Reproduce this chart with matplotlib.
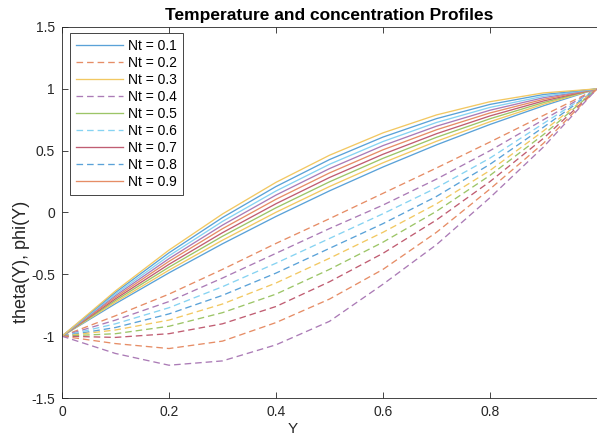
import numpy as np
import matplotlib
matplotlib.use("Agg")
import matplotlib.pyplot as plt

plt.rcParams['font.family'] = ['Liberation Sans', 'DejaVu Sans']
plt.rcParams['axes.unicode_minus'] = False

# sample positions along Y
Y = [0.0, 0.1, 0.2, 0.3, 0.4, 0.5, 0.6, 0.7, 0.8, 0.9, 1.0]
Nt = [0.1, 0.2, 0.3, 0.4, 0.5, 0.6, 0.7, 0.8, 0.9]

# temperature profiles theta(Y), one per Nt
theta = [
    [-1, -0.737, -0.488, -0.253, -0.032, 0.175, 0.368, 0.547, 0.712, 0.863, 1],
    [-1, -0.724, -0.466, -0.224, 0.002, 0.210, 0.402, 0.576, 0.734, 0.876, 1],
    [-1, -0.711, -0.442, -0.192, 0.038, 0.248, 0.438, 0.608, 0.758, 0.889, 1],
    [-1, -0.698, -0.419, -0.163, 0.071, 0.283, 0.471, 0.637, 0.781, 0.902, 1],
    [-1, -0.685, -0.395, -0.131, 0.107, 0.320, 0.507, 0.669, 0.805, 0.915, 1],
    [-1, -0.672, -0.373, -0.102, 0.141, 0.355, 0.541, 0.698, 0.827, 0.928, 1],
    [-1, -0.660, -0.350, -0.072, 0.174, 0.390, 0.574, 0.728, 0.850, 0.940, 1],
    [-1, -0.646, -0.326, -0.041, 0.210, 0.428, 0.610, 0.759, 0.874, 0.954, 1],
    [-1, -0.634, -0.304, -0.012, 0.244, 0.463, 0.644, 0.789, 0.896, 0.967, 1],
]

# concentration profiles phi(Y), one per Nt
phi = [
    [-1, -0.835, -0.66, -0.46, -0.25, -0.05, 0.155, 0.36, 0.57, 0.785, 1],
    [-1, -0.87, -0.72, -0.53, -0.33, -0.13, 0.06, 0.27, 0.50, 0.75, 1],
    [-1, -0.90, -0.77, -0.60, -0.41, -0.21, -0.01, 0.20, 0.44, 0.72, 1],
    [-1, -0.93, -0.82, -0.67, -0.49, -0.29, -0.09, 0.13, 0.39, 0.69, 1],
    [-1, -0.95, -0.87, -0.74, -0.57, -0.37, -0.16, 0.07, 0.34, 0.66, 1],
    [-1, -0.98, -0.92, -0.81, -0.66, -0.46, -0.24, 0.01, 0.30, 0.63, 1],
    [-1, -1.01, -0.98, -0.90, -0.76, -0.56, -0.33, -0.06, 0.25, 0.60, 1],
    [-1, -1.06, -1.10, -1.04, -0.89, -0.70, -0.46, -0.16, 0.19, 0.56, 1],
    [-1, -1.14, -1.235, -1.20, -1.07, -0.88, -0.58, -0.26, 0.12, 0.53, 1],
]

# matlab default colour order, a little washed out like the screenshot
colors = ['#5aa2d8', '#e68d66', '#f2c862', '#ab7bb6', '#9cc567', '#86d3f2', '#c05d72']

fig = plt.figure(figsize=(5.97, 4.37), dpi=100)
ax = fig.add_axes([62 / 597, 39 / 437, 535 / 597, 371 / 437])

k = 0
for i in range(len(Nt)):
    ax.plot(Y, theta[i], '-', color=colors[k % 7], lw=0.95)
    k += 1
    ax.plot(Y, phi[i], '--', color=colors[k % 7], lw=0.95, dashes=(5, 3))
    k += 1

ax.set_xlim(0, 1)
ax.set_ylim(-1.5, 1.5)
ax.set_xticks([0, 0.2, 0.4, 0.6, 0.8])
ax.set_xticklabels(['0', '0.2', '0.4', '0.6', '0.8'])
ax.set_yticks([-1.5, -1, -0.5, 0, 0.5, 1, 1.5])
ax.set_yticklabels(['-1.5', '-1', '-0.5', '0', '0.5', '1', '1.5'])

for s in ['left', 'bottom', 'top']:
    ax.spines[s].set_color('#262626')
    ax.spines[s].set_linewidth(0.6)
ax.spines['right'].set_visible(False)
ax.tick_params(direction='in', length=4, width=0.6, colors='#262626',
               labelsize=10, top=True, pad=5)

ax.set_title('Temperature and concentration Profiles', fontsize=12.5,
             fontweight='bold', pad=5)
ax.set_xlabel('Y', fontsize=11, color='#262626')
ax.xaxis.set_label_coords((293 - 62) / 535, -0.066)
ax.set_ylabel('theta(Y), phi(Y)', fontsize=13, color='#262626')
ax.yaxis.set_label_coords(-0.06, (398 - 262) / 371)

# the legend takes the first nine lines, as in the original figure
labels = ['Nt = %.1f' % n for n in Nt]
leg = ax.legend(ax.lines[:9], labels, loc='upper left',
                bbox_to_anchor=(70 / 597, 1 - 33 / 437),
                bbox_transform=fig.transFigure, borderaxespad=0,
                fontsize=10, handlelength=3.4, labelspacing=0.22,
                handletextpad=0.4, borderpad=0.4, fancybox=False,
                framealpha=1, edgecolor='#262626')
leg.get_frame().set_linewidth(0.6)

fig.savefig('out.png', dpi=100)
